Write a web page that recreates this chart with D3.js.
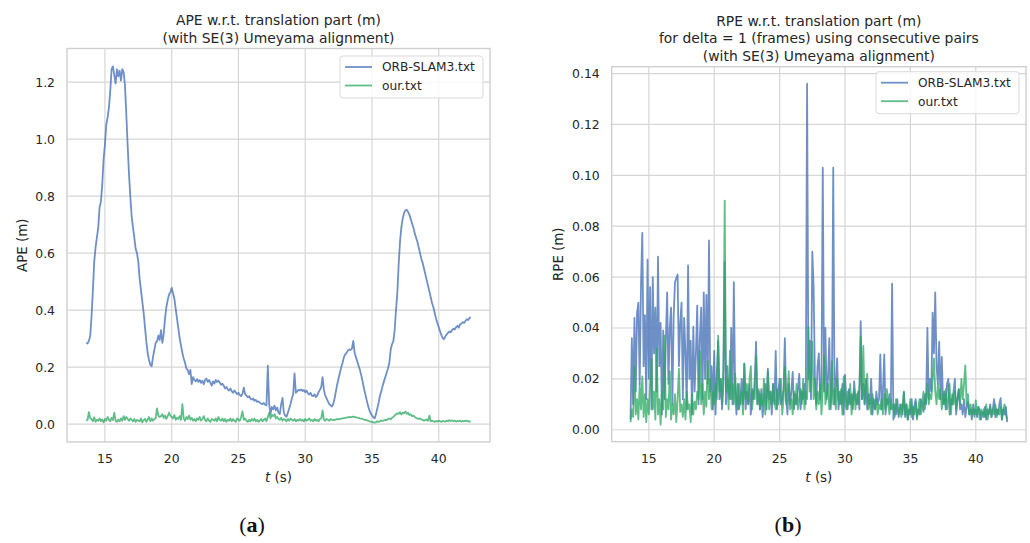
<!DOCTYPE html>
<html>
<head>
<meta charset="utf-8">
<script src="https://cdn.jsdelivr.net/npm/d3@7"></script>
<style>
  body { margin: 0; background: #fff; }
  svg text { font-family: "DejaVu Sans", sans-serif; fill: #262626; }
</style>
</head>
<body>
<svg id="viz"></svg>
<script>
// samples every 0.1 s starting at 13.6 s
const T0 = 13.6;
const DT = 0.1;

const seriesNames = ["ORB-SLAM3.txt", "our.txt"];

// APE (m)
const apeOrb = [
  0.285, 0.283, 0.292, 0.31, 0.38, 0.47, 0.57, 0.62, 0.655, 0.69,
  0.76, 0.78, 0.84, 0.93, 0.98, 1.05, 1.075, 1.11, 1.17, 1.245,
  1.255, 1.225, 1.195, 1.245, 1.22, 1.24, 1.205, 1.245, 1.235, 1.19,
  1.09, 0.98, 0.88, 0.80, 0.73, 0.69, 0.655, 0.615, 0.60, 0.57,
  0.51, 0.47, 0.43, 0.39, 0.34, 0.29, 0.25, 0.225, 0.208, 0.203,
  0.235, 0.26, 0.285, 0.29, 0.31, 0.295, 0.33, 0.285, 0.315, 0.37,
  0.41, 0.435, 0.455, 0.462, 0.478, 0.46, 0.44, 0.405, 0.37, 0.335,
  0.30, 0.275, 0.25, 0.23, 0.215, 0.195, 0.19, 0.175, 0.19, 0.14,
  0.165, 0.155, 0.15, 0.158, 0.148, 0.155, 0.145, 0.152, 0.14, 0.155,
  0.16, 0.148, 0.155, 0.145, 0.135, 0.15, 0.142, 0.155, 0.148, 0.152,
  0.146, 0.138, 0.142, 0.135, 0.125, 0.13, 0.122, 0.118, 0.125, 0.115,
  0.11, 0.118, 0.112, 0.105, 0.11, 0.102, 0.098, 0.106, 0.128, 0.105,
  0.10, 0.094, 0.098, 0.09, 0.086, 0.09, 0.082, 0.085, 0.078, 0.08,
  0.075, 0.072, 0.07, 0.074, 0.068, 0.066, 0.205, 0.07, 0.035, 0.06,
  0.052, 0.065, 0.048, 0.058, 0.04, 0.035, 0.07, 0.092, 0.04, 0.03,
  0.026, 0.04, 0.055, 0.07, 0.09, 0.105, 0.178, 0.11, 0.115, 0.12,
  0.118, 0.122, 0.116, 0.12, 0.112, 0.118, 0.108, 0.104, 0.11, 0.10,
  0.098, 0.105, 0.095, 0.10, 0.112, 0.12, 0.13, 0.165, 0.12, 0.10,
  0.09, 0.08, 0.07, 0.066, 0.062, 0.07, 0.09, 0.115, 0.14, 0.16,
  0.18, 0.20, 0.215, 0.235, 0.245, 0.25, 0.258, 0.262, 0.26, 0.265,
  0.292, 0.25, 0.235, 0.22, 0.205, 0.19, 0.17, 0.15, 0.125, 0.105,
  0.085, 0.065, 0.05, 0.038, 0.03, 0.024, 0.02, 0.035, 0.055, 0.075,
  0.10, 0.115, 0.135, 0.15, 0.165, 0.18, 0.195, 0.215, 0.26, 0.28,
  0.29, 0.33, 0.40, 0.46, 0.56, 0.64, 0.69, 0.72, 0.74, 0.75,
  0.752, 0.745, 0.735, 0.72, 0.705, 0.69, 0.67, 0.655, 0.64, 0.62,
  0.60, 0.58, 0.565, 0.545, 0.525, 0.505, 0.485, 0.465, 0.445, 0.425,
  0.41, 0.39, 0.37, 0.355, 0.34, 0.326, 0.312, 0.302, 0.298, 0.308,
  0.315, 0.32, 0.325, 0.322, 0.33, 0.335, 0.332, 0.34, 0.345, 0.338,
  0.35, 0.352, 0.358, 0.355, 0.362, 0.368, 0.365, 0.372, 0.375
];

const apeOur = [
  0.012, 0.015, 0.042, 0.02, 0.018, 0.01, 0.024, 0.008, 0.015, 0.012,
  0.02, 0.01, 0.016, 0.006, 0.018, 0.012, 0.025, 0.015, 0.01, 0.022,
  0.014, 0.04, 0.012, 0.008, 0.016, 0.01, 0.02, 0.012, 0.028, 0.015,
  0.025, 0.018, 0.012, 0.02, 0.015, 0.01, 0.018, 0.008, 0.015, 0.012,
  0.01, 0.02, 0.006, 0.014, 0.018, 0.008, 0.015, 0.025, 0.01, 0.02,
  0.012, 0.018, 0.02, 0.055, 0.03, 0.025, 0.028, 0.035, 0.022, 0.03,
  0.018, 0.028, 0.04, 0.03, 0.025, 0.02, 0.032, 0.015, 0.022, 0.018,
  0.028, 0.015, 0.07, 0.02, 0.012, 0.025, 0.018, 0.03, 0.015, 0.022,
  0.012, 0.018, 0.01, 0.02, 0.015, 0.025, 0.012, 0.018, 0.028, 0.015,
  0.01, 0.02, 0.012, 0.008, 0.018, 0.015, 0.012, 0.02, 0.01, 0.025,
  0.015, 0.012, 0.02, 0.01, 0.018, 0.008, 0.015, 0.012, 0.02, 0.01,
  0.018, 0.012, 0.008, 0.02, 0.015, 0.012, 0.025, 0.045, 0.015, 0.02,
  0.012, 0.008, 0.015, 0.01, 0.018, 0.012, 0.02, 0.01, 0.015, 0.008,
  0.012, 0.018, 0.01, 0.015, 0.02, 0.01, 0.025, 0.04, 0.02, 0.032,
  0.028, 0.035, 0.02, 0.025, 0.018, 0.015, 0.022, 0.012, 0.018, 0.015,
  0.01, 0.018, 0.012, 0.02, 0.015, 0.012, 0.018, 0.01, 0.015, 0.012,
  0.018, 0.012, 0.015, 0.01, 0.018, 0.012, 0.015, 0.02, 0.012, 0.015,
  0.01, 0.018, 0.012, 0.015, 0.01, 0.018, 0.02, 0.048, 0.015, 0.012,
  0.018, 0.015, 0.012, 0.018, 0.015, 0.014, 0.016, 0.015, 0.018, 0.017,
  0.018, 0.019, 0.02, 0.021, 0.022, 0.023, 0.024, 0.025, 0.024, 0.025,
  0.026, 0.025, 0.024, 0.023, 0.022, 0.02, 0.019, 0.018, 0.016, 0.015,
  0.014, 0.012, 0.01, 0.009, 0.008, 0.006, 0.005, 0.007, 0.01, 0.008,
  0.01, 0.012, 0.011, 0.013, 0.015, 0.014, 0.018, 0.02, 0.017, 0.022,
  0.025, 0.03, 0.035, 0.038, 0.036, 0.042, 0.034, 0.04, 0.038, 0.044,
  0.036, 0.04, 0.032, 0.035, 0.028, 0.03, 0.025, 0.022, 0.02, 0.018,
  0.02, 0.016, 0.015, 0.012, 0.014, 0.016, 0.012, 0.03, 0.01, 0.012,
  0.01, 0.008, 0.011, 0.009, 0.012, 0.01, 0.008, 0.011, 0.01, 0.009,
  0.012, 0.01, 0.014, 0.011, 0.013, 0.01, 0.012, 0.009, 0.011, 0.01,
  0.012, 0.009, 0.011, 0.01, 0.012, 0.01, 0.011, 0.009, 0.01
];

// RPE (m)
const rpeOrb = [
  0.004, 0.036, 0.01, 0.044, 0.015, 0.046, 0.05, 0.018, 0.057, 0.0774,
  0.025, 0.045, 0.012, 0.0669, 0.02, 0.056, 0.008, 0.060, 0.03, 0.048,
  0.015, 0.068, 0.025, 0.042, 0.006, 0.039, 0.012, 0.035, 0.054, 0.018,
  0.04, 0.048, 0.01, 0.045, 0.058, 0.0596, 0.061, 0.025, 0.042, 0.050,
  0.012, 0.044, 0.03, 0.008, 0.0646, 0.02, 0.035, 0.006, 0.0405, 0.015,
  0.03, 0.0488, 0.01, 0.036, 0.048, 0.012, 0.054, 0.02, 0.053, 0.018,
  0.0744, 0.015, 0.025, 0.008, 0.031, 0.006, 0.022, 0.035, 0.012, 0.02,
  0.008, 0.018, 0.066, 0.01, 0.025, 0.015, 0.012, 0.040, 0.01, 0.058,
  0.015, 0.006, 0.018, 0.008, 0.012, 0.02, 0.01, 0.026, 0.008, 0.015,
  0.01, 0.018, 0.006, 0.016, 0.012, 0.02, 0.0346, 0.01, 0.015, 0.008,
  0.016, 0.005, 0.012, 0.018, 0.008, 0.024, 0.012, 0.015, 0.006, 0.018,
  0.01, 0.031, 0.008, 0.015, 0.02, 0.01, 0.012, 0.016, 0.036, 0.012,
  0.006, 0.018, 0.01, 0.015, 0.0227, 0.008, 0.014, 0.01, 0.016, 0.022,
  0.008, 0.015, 0.012, 0.018, 0.01, 0.136, 0.02, 0.035, 0.012, 0.07,
  0.056, 0.02, 0.01, 0.025, 0.03, 0.012, 0.018, 0.103, 0.015, 0.04,
  0.012, 0.02, 0.036, 0.008, 0.015, 0.103, 0.01, 0.018, 0.028, 0.008,
  0.015, 0.01, 0.018, 0.006, 0.0216, 0.012, 0.008, 0.016, 0.01, 0.014,
  0.008, 0.019, 0.012, 0.01, 0.015, 0.008, 0.0427, 0.012, 0.018, 0.01,
  0.02, 0.008, 0.014, 0.01, 0.02, 0.006, 0.012, 0.008, 0.015, 0.01,
  0.012, 0.0296, 0.008, 0.015, 0.0296, 0.006, 0.012, 0.01, 0.014, 0.008,
  0.0574, 0.004, 0.01, 0.006, 0.012, 0.005, 0.008, 0.01, 0.006, 0.0148,
  0.005, 0.01, 0.004, 0.008, 0.006, 0.012, 0.004, 0.009, 0.012, 0.005,
  0.008, 0.006, 0.012, 0.01, 0.007, 0.014, 0.01, 0.04, 0.012, 0.02,
  0.015, 0.046, 0.03, 0.054, 0.025, 0.018, 0.0346, 0.012, 0.0286, 0.01,
  0.015, 0.008, 0.018, 0.02, 0.006, 0.012, 0.01, 0.015, 0.02, 0.006,
  0.012, 0.016, 0.008, 0.01, 0.006, 0.012, 0.005, 0.009, 0.011, 0.006,
  0.008, 0.004, 0.01, 0.006, 0.008, 0.005, 0.009, 0.0075, 0.004, 0.007,
  0.005, 0.009, 0.004, 0.008, 0.006, 0.01, 0.005, 0.008, 0.012, 0.005,
  0.008, 0.006, 0.01, 0.0124, 0.004, 0.008, 0.006, 0.009, 0.003
];

const rpeOur = [
  0.003, 0.008, 0.005, 0.0247, 0.006, 0.012, 0.004, 0.018, 0.008, 0.021,
  0.005, 0.014, 0.003, 0.012, 0.006, 0.018, 0.0277, 0.008, 0.015, 0.004,
  0.032, 0.006, 0.012, 0.002, 0.015, 0.008, 0.037, 0.005, 0.012, 0.008,
  0.023, 0.004, 0.01, 0.006, 0.014, 0.003, 0.012, 0.024, 0.007, 0.01,
  0.005, 0.012, 0.004, 0.015, 0.008, 0.01, 0.003, 0.014, 0.006, 0.011,
  0.008, 0.015, 0.012, 0.031, 0.01, 0.018, 0.006, 0.015, 0.009, 0.027,
  0.012, 0.02, 0.008, 0.015, 0.01, 0.018, 0.012, 0.037, 0.015, 0.02,
  0.01, 0.025, 0.09, 0.015, 0.02, 0.008, 0.031, 0.012, 0.018, 0.01,
  0.022, 0.012, 0.008, 0.018, 0.01, 0.015, 0.006, 0.026, 0.012, 0.018,
  0.01, 0.02, 0.025, 0.008, 0.015, 0.012, 0.029, 0.01, 0.016, 0.008,
  0.014, 0.01, 0.02, 0.006, 0.012, 0.023, 0.008, 0.015, 0.01, 0.018,
  0.012, 0.008, 0.016, 0.01, 0.014, 0.02, 0.006, 0.012, 0.0247, 0.01,
  0.015, 0.023, 0.008, 0.012, 0.006, 0.015, 0.01, 0.018, 0.008, 0.012,
  0.016, 0.01, 0.02, 0.008, 0.015, 0.012, 0.0405, 0.015, 0.02, 0.0346,
  0.012, 0.02, 0.008, 0.015, 0.01, 0.018, 0.006, 0.016, 0.029, 0.01,
  0.014, 0.018, 0.008, 0.012, 0.027, 0.01, 0.016, 0.008, 0.02, 0.012,
  0.01, 0.016, 0.006, 0.021, 0.012, 0.008, 0.015, 0.01, 0.018, 0.006,
  0.012, 0.016, 0.008, 0.014, 0.01, 0.018, 0.0365, 0.012, 0.033, 0.01,
  0.015, 0.022, 0.008, 0.012, 0.006, 0.014, 0.01, 0.008, 0.012, 0.006,
  0.01, 0.008, 0.012, 0.006, 0.014, 0.008, 0.016, 0.01, 0.006, 0.012,
  0.008, 0.01, 0.005, 0.012, 0.008, 0.006, 0.01, 0.005, 0.009, 0.015,
  0.006, 0.01, 0.004, 0.008, 0.012, 0.005, 0.009, 0.006, 0.011, 0.004,
  0.008, 0.012, 0.006, 0.01, 0.015, 0.008, 0.012, 0.018, 0.01, 0.014,
  0.012, 0.02, 0.028, 0.015, 0.01, 0.018, 0.012, 0.016, 0.008, 0.014,
  0.01, 0.016, 0.008, 0.012, 0.018, 0.006, 0.014, 0.01, 0.015, 0.008,
  0.012, 0.016, 0.01, 0.02, 0.012, 0.018, 0.0253, 0.01, 0.014, 0.006,
  0.01, 0.006, 0.008, 0.005, 0.0115, 0.006, 0.009, 0.004, 0.008, 0.006,
  0.008, 0.005, 0.01, 0.004, 0.007, 0.009, 0.005, 0.008, 0.006, 0.01,
  0.005, 0.008, 0.006, 0.009, 0.004, 0.008, 0.01, 0.006, 0.004
];

const xTicks = [15, 20, 25, 30, 35, 40];
const apeTicks = [0.0, 0.2, 0.4, 0.6, 0.8, 1.0, 1.2];
const rpeTicks = [0.00, 0.02, 0.04, 0.06, 0.08, 0.10, 0.12, 0.14];

const apeTitle = ["APE w.r.t. translation part (m)", "(with SE(3) Umeyama alignment)"];
const rpeTitle = [
  "RPE w.r.t. translation part (m)",
  "for delta = 1 (frames) using consecutive pairs",
  "(with SE(3) Umeyama alignment)"
];

const colors = ["#4a74b8", "#2aa760"];
const opac = [0.8, 0.75];

var width = 1030;
var height = 543;
var svg = d3.select("#viz").attr("width", width).attr("height", height);
svg.append("rect").attr("width", width).attr("height", height).attr("fill", "#fff");

function panel(p) {
  var g = svg.append("g");
  var x = d3.scaleLinear().domain(p.xDomain).range([p.left, p.right]);
  var y = d3.scaleLinear().domain(p.yDomain).range([p.bottom, p.top]);

  // grid
  g.append("g")
    .selectAll("line.v")
    .data(xTicks)
    .join("line")
    .attr("x1", (d) => x(d)).attr("x2", (d) => x(d))
    .attr("y1", p.top).attr("y2", p.bottom)
    .attr("stroke", "#d6d6d6").attr("stroke-width", 1.2);
  g.append("g")
    .selectAll("line.h")
    .data(p.yTicks)
    .join("line")
    .attr("x1", p.left).attr("x2", p.right)
    .attr("y1", (d) => y(d)).attr("y2", (d) => y(d))
    .attr("stroke", "#d6d6d6").attr("stroke-width", 1.2);

  // lines
  var line = d3.line()
    .x((d, i) => x(T0 + i * DT))
    .y((d) => y(d));
  p.series.forEach(function (s, k) {
    g.append("path")
      .datum(s)
      .attr("d", line)
      .attr("fill", "none")
      .attr("stroke", colors[k])
      .attr("stroke-opacity", opac[k])
      .attr("stroke-width", 1.8)
      .attr("stroke-linejoin", "round");
  });

  // frame
  g.append("rect")
    .attr("x", p.left).attr("y", p.top)
    .attr("width", p.right - p.left).attr("height", p.bottom - p.top)
    .attr("fill", "none").attr("stroke", "#cfcfcf").attr("stroke-width", 1.4);

  // tick labels
  g.append("g")
    .selectAll("text")
    .data(xTicks)
    .join("text")
    .attr("x", (d) => x(d))
    .attr("y", p.bottom + 21)
    .attr("text-anchor", "middle")
    .style("font-size", "12.4px")
    .text((d) => d);
  g.append("g")
    .selectAll("text")
    .data(p.yTicks)
    .join("text")
    .attr("x", p.left - 12)
    .attr("y", (d) => y(d))
    .attr("dy", "0.36em")
    .attr("text-anchor", "end")
    .style("font-size", "12.4px")
    .text((d) => p.fmt(d));

  // axis labels
  var xl = g.append("text")
    .attr("x", (p.left + p.right) / 2)
    .attr("y", p.bottom + 40)
    .attr("text-anchor", "middle")
    .style("font-size", "13.4px");
  xl.append("tspan").style("font-style", "italic").text("t");
  xl.append("tspan").text(" (s)");
  g.append("text")
    .attr("transform", "translate(" + p.yLabelX + "," + (p.top + p.bottom) / 2 + ") rotate(-90)")
    .attr("text-anchor", "middle")
    .attr("dy", "0.35em")
    .style("font-size", "13.4px")
    .text(p.yLabel);

  // title
  var n = p.title.length;
  g.append("g")
    .selectAll("text")
    .data(p.title)
    .join("text")
    .attr("x", (p.left + p.right) / 2)
    .attr("y", (d, i) => p.top - 6 - (n - 1 - i) * 17.5)
    .attr("text-anchor", "middle")
    .style("font-size", "13.9px")
    .text((d) => d);

  // legend
  var lw = 143, lh = 42;
  var lg = g.append("g")
    .attr("transform", "translate(" + (p.right - 7 - lw) + "," + (p.top + p.legendDy) + ")");
  lg.append("rect")
    .attr("width", lw).attr("height", lh).attr("rx", 3)
    .attr("fill", "#fff").attr("fill-opacity", 0.85)
    .attr("stroke", "#dadada").attr("stroke-width", 1);
  seriesNames.forEach(function (name, k) {
    var yy = 11 + k * 18.5;
    lg.append("line")
      .attr("x1", 5).attr("x2", 32).attr("y1", yy).attr("y2", yy)
      .attr("stroke", colors[k]).attr("stroke-opacity", opac[k]).attr("stroke-width", 1.8);
    lg.append("text")
      .attr("x", 42).attr("y", yy).attr("dy", "0.36em")
      .style("font-size", "12.2px")
      .text(name);
  });

  // caption
  var cap = svg.append("text")
    .attr("x", p.capX).attr("y", 532)
    .attr("text-anchor", "middle")
    .style("font-family", "'Liberation Serif', 'DejaVu Serif', serif")
    .style("font-size", "22px")
    .style("fill", "#111");
  cap.append("tspan").text("(");
  cap.append("tspan").style("font-weight", "bold").text(p.capLetter);
  cap.append("tspan").text(")");
}

function pad(ext) {
  var m = (ext[1] - ext[0]) * 0.05;
  return [ext[0] - m, ext[1] + m];
}

var tExtent = [T0, T0 + (apeOrb.length - 1) * DT];

panel({
  left: 67, right: 490, top: 48.5, bottom: 442,
  xDomain: pad(tExtent),
  yDomain: pad([0, d3.max(apeOrb)]),
  yTicks: apeTicks,
  fmt: d3.format(".1f"),
  series: [apeOrb, apeOur],
  title: apeTitle,
  yLabel: "APE (m)",
  yLabelX: 22.5,
  legendDy: 7.5,
  capX: 252,
  capLetter: "a"
});

panel({
  left: 611.7, right: 1026, top: 66.7, bottom: 441.7,
  xDomain: pad(tExtent),
  yDomain: pad([0.002, d3.max(rpeOrb)]),
  yTicks: rpeTicks,
  fmt: d3.format(".2f"),
  series: [rpeOrb, rpeOur],
  title: rpeTitle,
  yLabel: "RPE (m)",
  yLabelX: 558,
  legendDy: 5,
  capX: 788,
  capLetter: "b"
});
</script>
</body>
</html>
